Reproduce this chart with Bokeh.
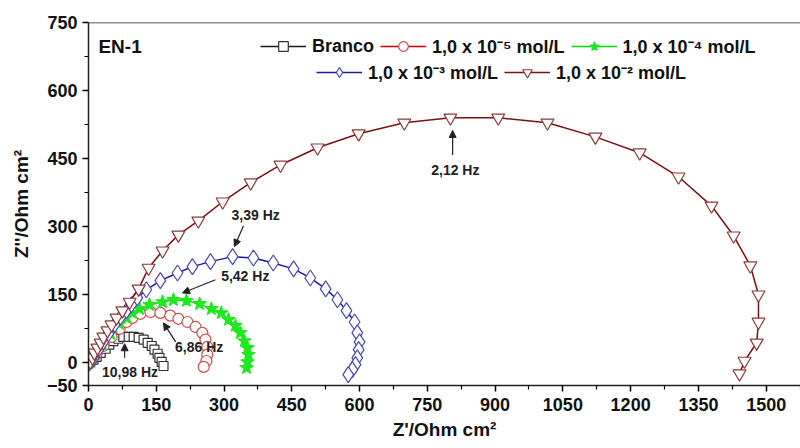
from bokeh.plotting import figure
from bokeh.models import (Range1d, FixedTicker, Legend, LegendItem, Label, Arrow,
                          NormalHead, Span)
from bokeh.embed import file_html
from bokeh.resources import INLINE

# ---------------- data ----------------
branco_x = [4, 11, 18, 27, 38, 46, 55, 66, 77, 89, 100, 111, 122, 131, 140, 146, 153, 157, 162, 166]
branco_y = [2, 7, 13, 22, 31, 40, 48, 53, 57, 57, 57, 55, 51, 44, 37, 29, 20, 11, 2, -7]

c5_x = [4, 18, 33, 51, 69, 84, 97, 115, 137, 159, 181, 199, 219, 237, 252, 259, 263, 263, 261, 255]
c5_y = [2, 20, 37, 57, 75, 90, 99, 108, 112, 110, 104, 97, 90, 79, 66, 51, 35, 18, 4, -9]

c4_x = [4, 15, 31, 49, 69, 84, 97, 113, 135, 164, 188, 217, 246, 272, 294, 310, 325, 336, 345, 352, 354, 352, 350]
c4_y = [2, 18, 40, 64, 86, 101, 110, 119, 128, 134, 139, 137, 130, 119, 110, 95, 82, 66, 48, 33, 18, 2, -11]

c3_x = [2, 7, 13, 22, 33, 44, 58, 71, 84, 95, 108, 128, 159, 197, 230, 270, 319, 365, 409, 454,
        491, 525, 551, 571, 589, 595, 600, 598, 595, 591, 584, 575]
c3_y = [0, 4, 13, 29, 46, 64, 84, 101, 115, 128, 143, 161, 181, 198, 212, 223, 234, 231, 220, 207,
        187, 163, 139, 115, 90, 66, 46, 29, 11, -4, -15, -26]

c2_x = [4, 9, 13, 20, 27, 33, 42, 51, 62, 75, 91, 111, 133, 164, 199, 243, 297, 359, 425, 507,
        598, 699, 801, 907, 1016, 1122, 1220, 1306, 1379, 1428, 1465, 1483, 1483, 1479, 1452, 1441]
c2_y = [2, 11, 22, 33, 44, 57, 71, 84, 99, 115, 134, 163, 209, 247, 282, 313, 355, 397, 436, 474,
        505, 529, 540, 540, 529, 498, 463, 410, 346, 280, 214, 150, 90, 44, 4, -24]

series_labels = ["Branco", "1,0 x 10\u207b\u2075 mol/L", "1,0 x 10\u207b\u2074 mol/L",
                 "1,0 x 10\u207b\u00b3 mol/L", "1,0 x 10\u207b\u00b2 mol/L"]

x_ticks = [0, 150, 300, 450, 600, 750, 900, 1050, 1200, 1350, 1500]
y_ticks = [-50, 0, 150, 300, 450, 600, 750]

freq_labels = ["10,98 Hz", "6,86 Hz", "5,42 Hz", "3,39 Hz", "2,12 Hz"]

# ---------------- figure ----------------
FONT = "Liberation Sans"
p = figure(width=800, height=448, x_range=Range1d(0, 1576), y_range=Range1d(-50, 750),
           output_backend="svg", toolbar_location=None,
           min_border_left=88, min_border_right=0, min_border_top=22, min_border_bottom=63)
p.grid.visible = False
p.outline_line_color = None
p.background_fill_color = "white"
p.border_fill_color = "white"

p.add_layout(Span(location=750, dimension="width", line_color="#222222", line_width=1.5))

for ax in (p.xaxis[0], p.yaxis[0]):
    ax.axis_line_color = "#222222"
    ax.axis_line_width = 1.5
    ax.major_tick_line_width = 1.5
    ax.minor_tick_line_width = 1.2
    ax.major_tick_in = 0
    ax.major_tick_out = 6
    ax.minor_tick_in = 0
    ax.minor_tick_out = 4
    ax.major_label_text_font = FONT
    ax.major_label_text_font_style = "bold"
    ax.major_label_text_font_size = "18px"
    ax.major_label_text_color = "#111111"
    ax.axis_label_text_font = FONT
    ax.axis_label_text_font_style = "bold"
    ax.axis_label_text_font_size = "19px"
    ax.axis_label_text_color = "#111111"

p.xaxis.ticker = FixedTicker(ticks=x_ticks, minor_ticks=[t + 75 for t in x_ticks])
p.yaxis.ticker = FixedTicker(ticks=y_ticks, minor_ticks=[75, 225, 375, 525, 675])
p.xaxis.axis_label = "Z'/Ohm cm\u00b2"
p.yaxis.axis_label = "Z''/Ohm cm\u00b2"
p.xaxis.major_label_standoff = 6
p.yaxis.major_label_standoff = 5
p.xaxis.axis_label_standoff = 5
p.yaxis.axis_label_standoff = 12

styles = [
    dict(x=branco_x, y=branco_y, line="#1a1a1a", marker="square", mcol="#333333", size=9, fill="white"),
    dict(x=c5_x, y=c5_y, line="#cc0000", marker="circle", mcol="#d04a4a", size=11, fill="white"),
    dict(x=c4_x, y=c4_y, line="#00e000", marker="star", mcol="#1fe81f", size=14, fill="#1fe81f"),
    dict(x=c3_x, y=c3_y, line="#1a1aa0", marker="diamond", mcol="#4a4ab8", size=16, fill="white"),
    dict(x=c2_x, y=c2_y, line="#7b1010", marker="inverted_triangle", mcol="#8a3a3a", size=13, fill="white"),
]

items = []
for st, lab in zip(styles, series_labels):
    rl = p.line(st["x"], st["y"], line_color=st["line"], line_width=1.5)
    rs = p.scatter(st["x"], st["y"], marker=st["marker"], size=st["size"],
                   line_color=st["mcol"], fill_color=st["fill"], line_width=1.2)
    items.append(LegendItem(label=lab, renderers=[rl, rs]))

leg_kw = dict(orientation="horizontal", glyph_width=46, glyph_height=24, label_height=20,
              label_standoff=6, spacing=6, padding=0, margin=0, border_line_color=None,
              background_fill_alpha=0, label_text_font=FONT, label_text_font_style="bold",
              label_text_font_size="18px", label_text_color="#111111")
leg1 = Legend(items=items[:3], location=(172, 327), **leg_kw)
leg2 = Legend(items=items[3:], location=(228, 301), **leg_kw)
p.add_layout(leg1)
p.add_layout(leg2)

# ---------------- annotations ----------------
p.add_layout(Label(x=22, y=698, text="EN-1", text_font=FONT, text_font_style="bold",
                   text_font_size="19px", text_align="left", text_baseline="middle",
                   text_color="#111111"))

ann_text_pos = [(92, -20), (245, 35), (347, 192), (370, 326), (812, 425)]
ann_arrows = [((80, 11), (80, 42)), ((193, 46), (166, 88)), ((281, 183), (208, 154)),
              ((343, 302), (323, 256)), ((806, 458), (806, 512))]
for txt, (tx, ty), ((xs, ys), (xe, ye)) in zip(freq_labels, ann_text_pos, ann_arrows):
    p.add_layout(Label(x=tx, y=ty, text=txt, text_font=FONT, text_font_style="bold",
                       text_font_size="14px", text_align="center", text_baseline="middle",
                       text_color="#222222"))
    p.add_layout(Arrow(x_start=xs, y_start=ys, x_end=xe, y_end=ye, line_color="#222222",
                       line_width=1.2,
                       end=NormalHead(size=7, fill_color="#222222", line_color="#222222")))

open("out.html", "w").write(file_html(p, INLINE))
